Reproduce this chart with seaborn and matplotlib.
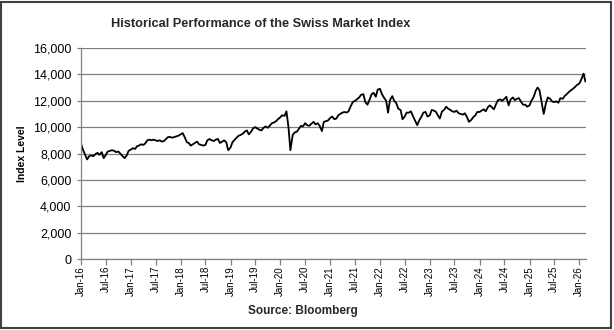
import numpy as np
import pandas as pd
import matplotlib
matplotlib.use('Agg')
import matplotlib.pyplot as plt
import matplotlib.dates as mdates
from matplotlib.ticker import FuncFormatter, MultipleLocator
from matplotlib.patches import Rectangle
import seaborn as sns

# Semi-monthly readings (1st and 15th of each month) of the SMI
smi_2016 = [8750, 8300, 7900, 7550, 7800, 7850, 7800, 7950, 8050, 7900, 8100, 7650,
            7900, 8150, 8200, 8250, 8200, 8100, 8150, 8000, 7800, 7650, 7850, 8200]
smi_2017 = [8300, 8400, 8350, 8550, 8600, 8700, 8650, 8750, 9000, 9050, 9000, 9050,
            9000, 8950, 9000, 8900, 8950, 9100, 9250, 9250, 9200, 9250, 9300, 9350]
smi_2018 = [9450, 9550, 9200, 8850, 8800, 8600, 8700, 8800, 8900, 8700, 8650, 8600,
            8650, 9000, 9100, 9000, 8950, 9050, 9100, 8800, 8900, 9000, 8850, 8250]
smi_2019 = [8450, 8850, 9050, 9200, 9350, 9400, 9500, 9650, 9750, 9450, 9650, 9900,
            10000, 9900, 9800, 9750, 9950, 10050, 9950, 10100, 10300, 10350, 10450, 10600]
smi_2020 = [10750, 10900, 10850, 11200, 10000, 8250, 9400, 9600, 9650, 9850, 10100, 10050,
            10300, 10150, 10100, 10250, 10400, 10200, 10300, 10100, 9700, 10400, 10450, 10500]
smi_2021 = [10700, 10800, 10600, 10650, 10900, 11000, 11100, 11150, 11100, 11200, 11600, 11900,
            12000, 12100, 12250, 12450, 12500, 11900, 11700, 12050, 12500, 12600, 12300, 12850]
smi_2022 = [12900, 12500, 12200, 12000, 11100, 12050, 12350, 12000, 11800, 11400, 11300, 10600,
            10800, 11100, 11100, 11200, 10800, 10500, 10150, 10500, 10800, 11100, 11150, 10800]
smi_2023 = [10900, 11300, 11250, 11150, 10900, 10650, 11200, 11300, 11550, 11400, 11300, 11200,
            11150, 11250, 11050, 11000, 10950, 11050, 10750, 10400, 10550, 10750, 10900, 11150]
smi_2024 = [11150, 11250, 11350, 11200, 11500, 11650, 11500, 11350, 11750, 12050, 12100, 12000,
            12150, 12300, 11650, 12100, 12250, 12050, 12150, 12200, 11900, 11700, 11700, 11550]
smi_2025 = [11650, 12000, 12300, 12750, 13000, 12800, 11800, 11000, 11800, 12250, 12150, 11950,
            11900, 11950, 11850, 12200, 12150, 12350, 12500, 12650, 12800, 12900, 13050, 13200]
smi_2026 = [13300, 13600, 14050, 13450]

values = (smi_2016 + smi_2017 + smi_2018 + smi_2019 + smi_2020 + smi_2021 +
          smi_2022 + smi_2023 + smi_2024 + smi_2025 + smi_2026)
dates = pd.date_range('2016-01-01', periods=len(values), freq='SMS')
df = pd.DataFrame({'date': dates, 'smi': values})

title = 'Historical Performance of the Swiss Market Index'
ylabel = 'Index Level'
source = 'Source: Bloomberg'

sns.set_theme(style='white')
plt.rcParams['font.family'] = ['Liberation Sans', 'DejaVu Sans']

fig = plt.figure(figsize=(6.14, 3.3), dpi=100)
ax = fig.add_axes([81/614, 1-259/330, (586-81)/614, (259-48)/330])
sns.lineplot(data=df, x='date', y='smi', ax=ax, color='black', lw=1.3)

ax.set_ylim(0, 16000)
ax.set_xlim(pd.Timestamp('2016-01-01'), pd.Timestamp('2026-02-19'))
ax.yaxis.set_major_locator(MultipleLocator(2000))
ax.yaxis.set_major_formatter(FuncFormatter(lambda v, p: f'{int(v):,}'))
ax.xaxis.set_major_locator(mdates.MonthLocator(bymonth=[1, 7]))
ax.xaxis.set_major_formatter(mdates.DateFormatter('%b-%y'))
ax.grid(axis='y', color='#808080', lw=0.9)
ax.grid(axis='x', visible=False)
for s in ['top', 'right']:
    ax.spines[s].set_visible(False)
for s in ['left', 'bottom']:
    ax.spines[s].set_color('#808080')
    ax.spines[s].set_linewidth(0.9)
ax.tick_params(axis='x', rotation=90, labelsize=7, length=4, width=0.9, color='#808080',
               direction='out', bottom=True, pad=1, labelcolor='black')
ax.tick_params(axis='y', labelsize=9, length=3, width=0.9, color='#808080',
               direction='out', left=True, pad=4, labelcolor='black')
ax.set_xlabel('')
ax.set_ylabel(ylabel, fontsize=7.5, fontweight='bold', color='black')
ax.yaxis.set_label_coords((27-81)/505, 0.5)

fig.text(261/614, 1-24/330, title, ha='center', va='center', fontsize=9.2, fontweight='bold')
fig.text(303/614, 1-311/330, source, ha='center', va='center', fontsize=8.5, fontweight='bold')
fig.patches.append(Rectangle((0.002, 0.005), 0.993, 0.99, transform=fig.transFigure,
                             fill=False, ec='#404040', lw=1.5))

fig.savefig('out.png', dpi=100)
